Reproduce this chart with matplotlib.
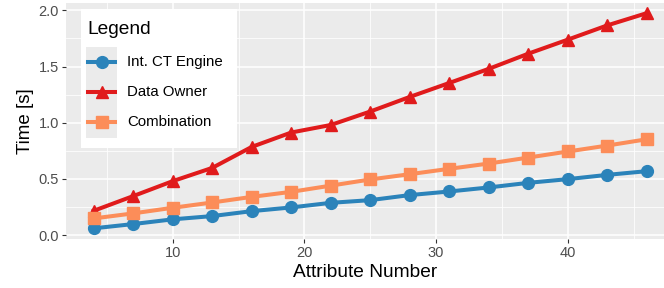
import matplotlib
matplotlib.use("Agg")
import matplotlib.pyplot as plt
from matplotlib.patches import Rectangle
from matplotlib.lines import Line2D

plt.rcParams['font.family'] = ['Liberation Sans', 'DejaVu Sans']

# data
attributes = [4, 7, 10, 13, 16, 19, 22, 25, 28, 31, 34, 37, 40, 43, 46]
ct_engine = [0.06, 0.098, 0.14, 0.169, 0.213, 0.246, 0.287, 0.311, 0.356,
             0.388, 0.424, 0.465, 0.498, 0.536, 0.569]
data_owner = [0.216, 0.347, 0.48, 0.598, 0.785, 0.913, 0.98, 1.10, 1.23,
              1.354, 1.48, 1.615, 1.74, 1.867, 1.976]
combination = [0.148, 0.193, 0.243, 0.29, 0.34, 0.385, 0.44, 0.495, 0.542,
               0.59, 0.637, 0.69, 0.744, 0.797, 0.853]

series_names = ['Int. CT Engine', 'Data Owner', 'Combination']
series_colors = ['#2B83BA', '#E01B1C', '#FC8D59']
series_markers = ['o', '^', 's']
series_sizes = [8.5, 9, 8]

fig = plt.figure(figsize=(6.64, 2.88), dpi=100)
ax = fig.add_axes([66 / 664, 1 - 239 / 288, 1 - 66 / 664, 236 / 288])
ax.set_facecolor('#EBEBEB')

for vals, name, col, mk, ms in zip([ct_engine, data_owner, combination],
                                   series_names, series_colors,
                                   series_markers, series_sizes):
    ax.plot(attributes, vals, color=col, lw=2.9, marker=mk, ms=ms,
            label=name, zorder=3)

ax.set_xlim(1.9, 47.3)
ax.set_ylim(-0.035, 2.066)
ax.set_xticks([10, 20, 30, 40])
ax.set_xticks([5, 15, 25, 35, 45], minor=True)
ax.set_yticks([0.0, 0.5, 1.0, 1.5, 2.0])
ax.set_yticks([0.25, 0.75, 1.25, 1.75], minor=True)
ax.set_yticklabels(['0.0', '0.5', '1.0', '1.5', '2.0'])
ax.grid(which='major', color='white', lw=1.1)
ax.grid(which='minor', color='white', lw=0.55)
ax.set_axisbelow(True)
for s in ax.spines.values():
    s.set_visible(False)
ax.tick_params(which='major', length=3, width=0.8, color='#333333',
               labelcolor='#4D4D4D', labelsize=10.5, pad=2)
ax.tick_params(which='minor', length=0)
ax.set_xlabel('Attribute Number', fontsize=13.8, labelpad=3)
ax.set_ylabel('Time [s]', fontsize=13.5, labelpad=3)

# ggplot-style legend drawn in pixel coordinates
ov = fig.add_axes([0, 0, 1, 1])
ov.set_xlim(0, 664)
ov.set_ylim(288, 0)
ov.axis('off')
ov.add_patch(Rectangle((81, 9), 156, 139, facecolor='white', edgecolor='none'))
ov.add_patch(Rectangle((86, 47), 31, 91, facecolor='#EBEBEB', edgecolor='none'))
ov.text(87, 29, 'Legend', fontsize=13.8, va='center', ha='left')
for i, (name, col, mk, ms) in enumerate(zip(series_names, series_colors,
                                            series_markers, series_sizes)):
    yy = 62 + i * 30
    ov.add_line(Line2D([88, 115], [yy, yy], color=col, lw=2.9))
    ov.add_line(Line2D([101.5], [yy], color=col, marker=mk, ms=ms, lw=0))
    ov.text(127, yy, name, fontsize=10.8, va='center', ha='left')

fig.savefig('out.png', dpi=100)
